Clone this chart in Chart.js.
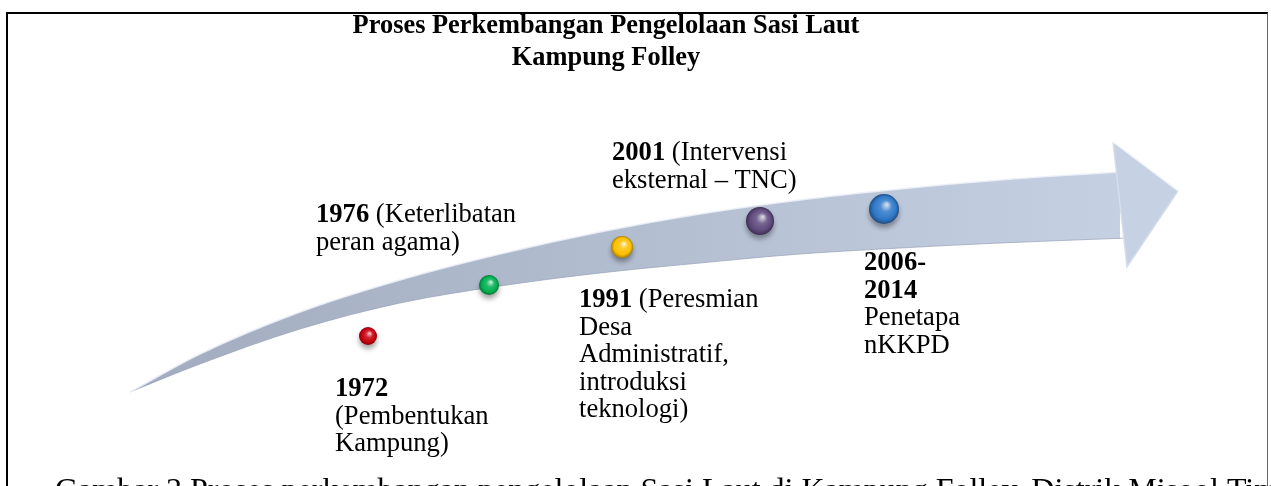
<!DOCTYPE html>
<html>
<head>
<meta charset="utf-8">
<title>Proses Perkembangan Pengelolaan Sasi Laut Kampung Folley</title>
<script src="https://cdn.jsdelivr.net/npm/chart.js@4.4.1/dist/chart.umd.min.js"></script>
<style>
  html, body { margin: 0; padding: 0; background: #fff; overflow: hidden; }
  #wrap  { position: relative; width: 1271px; height: 486px; }
  #frame { position: absolute; left: 6px; top: 12px; width: 1259px; height: 490px;
           border-top: 2px solid #000; border-left: 2px solid #000; border-right: 1px solid #666; }
  canvas { position: absolute; left: 0; top: 0; }
</style>
</head>
<body>
<div id="wrap">
  <div id="frame"></div>
  <canvas id="chart-timeline" width="1271" height="486"></canvas>
</div>
<script>
// ============================================================
// Timeline: Proses Perkembangan Pengelolaan Sasi Laut
// ============================================================

const titleLines = ['Proses Perkembangan Pengelolaan Sasi Laut', 'Kampung Folley'];
const caption    = 'Gambar 3 Proses perkembangan pengelolaan Sasi Laut di Kampung Folley, Distrik Misool Timur';

// milestones
const years      = ['1972', '1976', '1991', '2001', '2006-2014'];
const ballColors = ['#c8000e', '#00b050', '#ffc000', '#5f4a7d', '#2f78c8'];
const ballX      = [368, 489, 622, 760, 884];
const ballY      = [336, 285, 247, 221, 209];
const ballR      = [9, 10, 11, 14, 15];

// label lines per milestone ( **x** = bold )
const labelLines = [
  ['**1972**', '(Pembentukan', 'Kampung)'],
  ['**1976** (Keterlibatan', 'peran agama)'],
  ['**1991** (Peresmian', 'Desa', 'Administratif,', 'introduksi', 'teknologi)'],
  ['**2001** (Intervensi', 'eksternal \u2013 TNC)'],
  ['**2006-**', '**2014**', 'Penetapa', 'nKKPD'],
];
const labelX = [335, 316, 579, 612, 864];
const labelY = [396, 222, 307, 160, 270];   // baseline of first line

// arrow outline (shaft edges + head)
const shaftTopX = [130, 200, 300, 400, 500, 600, 700, 800, 900, 1000, 1120];
const shaftTopY = [392, 354, 312, 280, 254, 232, 214, 200, 189, 180, 172];
const shaftBotX = [130, 200, 300, 400, 500, 600, 700, 800, 900, 1000, 1128];
const shaftBotY = [392, 364, 329, 303, 286, 273, 263, 254, 248, 243, 238];
const headTopX  = [1113, 1178];
const headTopY  = [142, 191];
const headBotX  = [1113, 1127, 1178];
const headBotY  = [142, 267, 191];

const pts = (xs, ys) => xs.map((x, i) => ({ x, y: ys[i] }));

function mix(hex, target, t) {
  const n = parseInt(hex.slice(1), 16);
  const c = [(n >> 16) & 255, (n >> 8) & 255, n & 255];
  return 'rgb(' + c.map(v => Math.round(v + (target - v) * t)).join(',') + ')';
}

function arrowFill(c) {
  const a = c.chart.chartArea;
  if (!a) return '#b7c0d2';
  const g = c.chart.ctx.createLinearGradient(130, 0, 1178, 0);
  g.addColorStop(0,    '#a3acbf');
  g.addColorStop(0.45, '#b2bccf');
  g.addColorStop(1,    '#c7d2e5');
  return g;
}

function ballFill(c) {
  const i = c.dataIndex;
  const base = ballColors[i] || '#888';
  const sx = c.chart.scales.x, sy = c.chart.scales.y;
  if (c.type !== 'data' || !sx || !sy) return base;
  const px = sx.getPixelForValue(ballX[i]);
  const py = sy.getPixelForValue(ballY[i]);
  const r  = ballR[i];
  if (![px, py, r].every(Number.isFinite)) return base;
  const g = c.chart.ctx.createRadialGradient(px + r * 0.2, py - r * 0.3, r * 0.05, px, py, r);
  g.addColorStop(0,    mix(base, 255, 0.75));
  g.addColorStop(0.35, mix(base, 255, 0.15));
  g.addColorStop(0.75, base);
  g.addColorStop(1,    mix(base, 0, 0.35));
  return g;
}

const ballShadow = {
  id: 'ballShadow',
  beforeDatasetDraw(chart, args) {
    if (args.index !== 4) return;
    const ctx = chart.ctx;
    ctx.save();
    ctx.shadowColor   = 'rgba(0,0,0,0.35)';
    ctx.shadowBlur    = 5;
    ctx.shadowOffsetY = 4;
  },
  afterDatasetDraw(chart, args) {
    if (args.index === 4) chart.ctx.restore();
  }
};

function drawRich(ctx, line, x, y, size) {
  const parts = line.split('**');
  let cx = x;
  parts.forEach((p, i) => {
    if (!p) return;
    ctx.font = (i % 2 ? 'bold ' : '') + size + 'px "Liberation Serif", "Times New Roman", serif';
    ctx.fillText(p, cx, y);
    cx += ctx.measureText(p).width;
  });
}

const textLayer = {
  id: 'textLayer',
  afterDraw(chart) {
    const ctx = chart.ctx;
    const { x, y } = chart.scales;
    ctx.save();
    ctx.fillStyle = '#000';
    ctx.textBaseline = 'alphabetic';

    // title
    ctx.textAlign = 'center';
    ctx.font = 'bold 26.4px "Liberation Serif", "Times New Roman", serif';
    ctx.fillText(titleLines[0], x.getPixelForValue(606), y.getPixelForValue(33));
    ctx.fillText(titleLines[1], x.getPixelForValue(606), y.getPixelForValue(65));

    // milestone labels
    ctx.textAlign = 'left';
    labelLines.forEach((lines, i) => {
      lines.forEach((ln, j) => {
        drawRich(ctx, ln, x.getPixelForValue(labelX[i]), y.getPixelForValue(labelY[i] + j * 27.6), 26.6);
      });
    });

    // caption (cut by the bottom edge)
    ctx.font = '32px "Liberation Serif", "Times New Roman", serif';
    ctx.fillText(caption, x.getPixelForValue(55), y.getPixelForValue(500));
    ctx.restore();
  }
};

new Chart(document.getElementById('chart-timeline').getContext('2d'), {
  type: 'line',
  data: {
    datasets: [
      { // 0: shaft upper edge
        data: pts(shaftTopX, shaftTopY),
        borderColor: 'rgba(236,240,248,0.9)', borderWidth: 1.5,
        cubicInterpolationMode: 'monotone', pointRadius: 0, fill: false, order: 2
      },
      { // 1: shaft lower edge, filled up to the upper edge
        data: pts(shaftBotX, shaftBotY),
        borderColor: 'rgba(150,160,182,0.7)', borderWidth: 1,
        backgroundColor: arrowFill,
        cubicInterpolationMode: 'monotone', pointRadius: 0, fill: '-1', order: 2
      },
      { // 2: head upper edge
        data: pts(headTopX, headTopY),
        borderColor: 'rgba(236,240,248,0.95)', borderWidth: 1.5,
        tension: 0, pointRadius: 0, fill: false, order: 1
      },
      { // 3: head lower edges, filled to upper
        data: pts(headBotX, headBotY),
        borderColor: 'rgba(214,222,236,0.95)', borderWidth: 1.5,
        backgroundColor: '#c6d1e4',
        tension: 0, pointRadius: 0, fill: '-1', order: 1
      },
      { // 4: milestone balls
        label: 'Milestones',
        data: pts(ballX, ballY),
        showLine: false,
        pointStyle: 'circle',
        pointRadius: ballR,
        pointBorderWidth: 0,
        pointBackgroundColor: ballFill,
        pointBorderColor: 'rgba(0,0,0,0)',
        order: -1
      }
    ]
  },
  options: {
    responsive: false,
    animation: false,
    devicePixelRatio: 1,
    events: [],
    layout: { padding: 0, autoPadding: false },
    plugins: { legend: { display: false }, tooltip: { enabled: false }, title: { display: false } },
    scales: {
      x: { type: 'linear', min: 0, max: 1271, display: false },
      y: { type: 'linear', min: 0, max: 486, reverse: true, display: false }
    }
  },
  plugins: [ballShadow, textLayer]
});
</script>
</body>
</html>
